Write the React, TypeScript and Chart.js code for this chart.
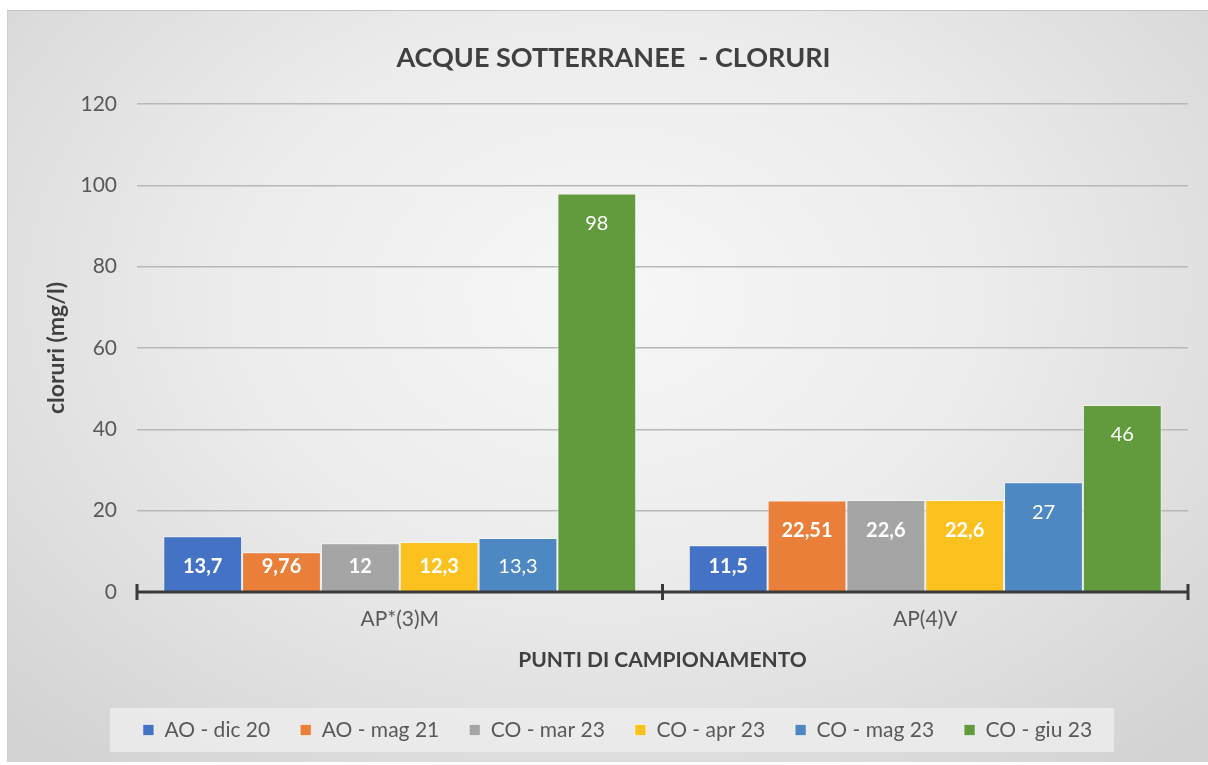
import { useEffect, useRef } from "react";
import { Chart, registerables } from "chart.js";

Chart.register(...registerables);

const titleText = "ACQUE SOTTERRANEE  - CLORURI";
const yTitle = "cloruri (mg/l)";
const xTitle = "PUNTI DI CAMPIONAMENTO";
const categories = ["AP*(3)M", "AP(4)V"];
const seriesNames = ["AO - dic 20", "AO - mag 21", "CO - mar 23", "CO - apr 23", "CO - mag 23", "CO - giu 23"];
const aoDic20 = [13.7, 11.5];
const aoMag21 = [9.76, 22.51];
const coMar23 = [12, 22.6];
const coApr23 = [12.3, 22.6];
const coMag23 = [13.3, 27];
const coGiu23 = [98, 46];
const seriesColors = ["#4472C4", "#EA7F3A", "#A5A5A5", "#FBC11F", "#4E88C2", "#629A3E"];
const labelBold = [true, true, true, true, false, false];
const yMin = 0;
const yMax = 120;
const yStep = 20;

const FONT = "Lato, 'Noto Sans', sans-serif";

const fmt = (v: number) => String(v).replace(".", ",");

const shiftPlugin = {
  id: "shiftBlocks",
  afterLayout(chart: any) {
    const lg = chart.legend;
    if (lg) {
      lg.left += 20;
      lg.right += 20;
    }
    const tb = chart.titleBlock;
    if (tb) {
      tb.left += 16;
      tb.right += 16;
    }
  },
};

const legendBoxPlugin = {
  id: "legendBox",
  beforeDraw(chart: any) {
    const lg = chart.legend;
    if (!lg || !lg.legendHitBoxes || !lg.legendHitBoxes.length) return;
    const hb = lg.legendHitBoxes;
    const first = hb[0];
    const last = hb[hb.length - 1];
    const cy = first.top + first.height / 2;
    const ctx = chart.ctx;
    ctx.save();
    ctx.fillStyle = "rgba(236,236,236,0.85)";
    const x0 = first.left - 33;
    const x1 = last.left + last.width + 22;
    ctx.fillRect(x0, cy - 22, x1 - x0, 44);
    ctx.restore();
  },
};

const axisAndLabelsPlugin = {
  id: "axisAndLabels",
  afterDatasetsDraw(chart: any) {
    const ctx = chart.ctx;
    const x = chart.scales.x;
    const y = chart.scales.y;
    const area = chart.chartArea;
    const y0 = y.getPixelForValue(0);
    ctx.save();
    ctx.strokeStyle = "#3a3a3a";
    ctx.lineWidth = 3;
    ctx.beginPath();
    ctx.moveTo(area.left, y0);
    ctx.lineTo(area.right, y0);
    const marks = [area.left, (x.getPixelForTick(0) + x.getPixelForTick(1)) / 2, area.right];
    marks.forEach((mx) => {
      ctx.moveTo(mx, y0 - 8);
      ctx.lineTo(mx, y0 + 8);
    });
    ctx.stroke();

    ctx.textAlign = "center";
    ctx.textBaseline = "middle";
    ctx.fillStyle = "#ffffff";
    chart.data.datasets.forEach((ds: any, di: number) => {
      const meta = chart.getDatasetMeta(di);
      ctx.font = `${labelBold[di] ? "bold " : ""}20px ${FONT}`;
      meta.data.forEach((bar: any, i: number) => {
        const top = bar.y;
        const bottom = bar.base;
        const ly = Math.min(top + 30, bottom - 25);
        ctx.fillText(fmt(ds.data[i]), bar.x, ly);
      });
    });
    ctx.restore();
  },
};

export default function App() {
  const ref = useRef<HTMLCanvasElement | null>(null);

  useEffect(() => {
    if (!ref.current) return;
    const seriesData = [aoDic20, aoMag21, coMar23, coApr23, coMag23, coGiu23];
    const chart = new Chart(ref.current, {
      type: "bar",
      data: {
        labels: categories,
        datasets: seriesNames.map((name, i) => ({
          label: name,
          data: seriesData[i],
          backgroundColor: seriesColors[i],
          borderColor: "rgba(255,255,255,0.55)",
          borderWidth: 1,
          categoryPercentage: 0.9,
          barPercentage: 1.0,
        })),
      },
      plugins: [shiftPlugin, legendBoxPlugin, axisAndLabelsPlugin],
      options: {
        responsive: false,
        animation: false,
        devicePixelRatio: 1,
        layout: { padding: { top: 0, left: 0, right: 20, bottom: 11.5 } },
        plugins: {
          title: {
            display: true,
            text: titleText,
            color: "#404040",
            font: { family: FONT, size: 27, weight: "bold" },
            padding: { top: 31.8, bottom: 29.8 },
          },
          legend: {
            position: "bottom",
            labels: {
              color: "#595959",
              font: { family: FONT, size: 21 },
              boxWidth: 11,
              boxHeight: 11,
              padding: 30,
            },
          },
          tooltip: { enabled: false },
        },
        scales: {
          x: {
            grid: { display: false, drawTicks: false },
            border: { display: false },
            ticks: {
              color: "#595959",
              font: { family: FONT, size: 21 },
              padding: 15,
            },
            title: {
              display: true,
              text: xTitle,
              color: "#404040",
              font: { family: FONT, size: 21, weight: "bold" },
              padding: { top: 0, bottom: 16.9 },
            },
            afterFit(scale: any) {
              scale.height = 97.5;
            },
          },
          y: {
            min: yMin,
            max: yMax,
            grid: {
              color: (c: any) => (c.tick && c.tick.value === 0 ? "rgba(0,0,0,0)" : "#b8b8b8"),
              lineWidth: 1.5,
              drawTicks: false,
            },
            border: { display: false },
            ticks: {
              stepSize: yStep,
              color: "#595959",
              font: { family: FONT, size: 21 },
              padding: 20,
            },
            title: {
              display: true,
              text: yTitle,
              color: "#404040",
              font: { family: FONT, size: 23, weight: "bold" },
              padding: { top: 36.2, bottom: 0 },
            },
            afterFit(scale: any) {
              scale.width = 130;
            },
          },
        },
      },
    });
    return () => chart.destroy();
  }, []);

  return (
    <div
      style={{
        position: "fixed",
        left: 7,
        top: 10,
        width: 1201,
        height: 752,
        background:
          "radial-gradient(ellipse 70% 80% at 50% 38%, #f7f7f7 0%, #ececec 45%, #d3d3d3 100%)",
      }}
    >
      <canvas ref={ref} width={1201} height={752} style={{ position: "absolute", left: 0, top: 0 }} />
      <div
        style={{
          position: "absolute",
          inset: 0,
          borderTop: "1px solid #c4c4c4",
          borderLeft: "1px solid #cdcdcd",
          pointerEvents: "none",
        }}
      />
    </div>
  );
}
